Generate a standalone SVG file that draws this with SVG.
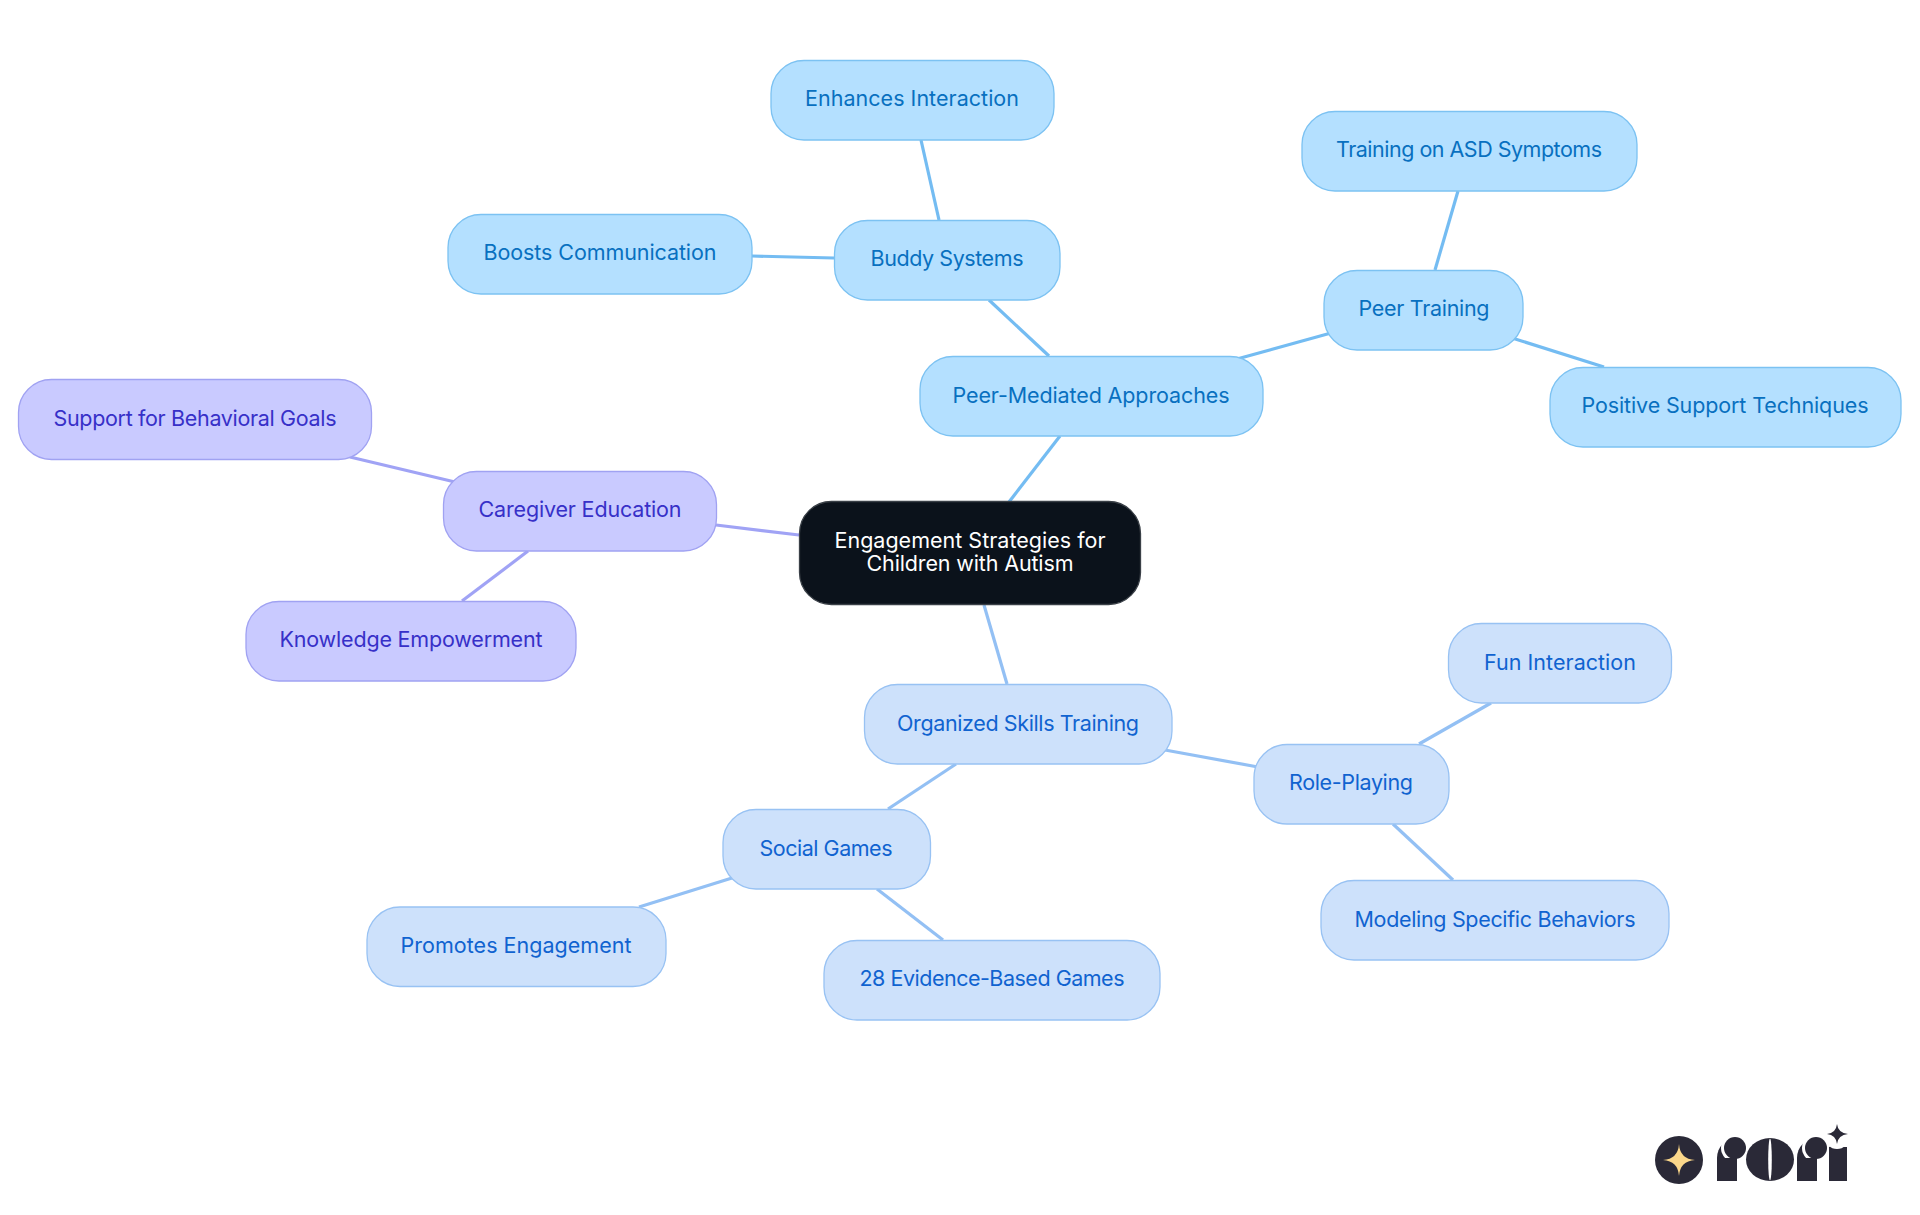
<svg xmlns="http://www.w3.org/2000/svg" width="1920" height="1215" viewBox="0 0 1920 1215">
<style>
text{font-family:"Inter","Noto Sans","Liberation Sans",sans-serif;font-size:21.5px;text-anchor:middle}
.n{stroke-width:1.3}
.sky rect{fill:#b4e0ff;stroke:#7cc2f2}.sky text{fill:#0870c0}
.blu rect{fill:#cde1fb;stroke:#98c2f3}.blu text{fill:#1063d0}
.pur rect{fill:#c9caff;stroke:#a0a2f2}.pur text{fill:#3730c8}
.root rect{fill:#0b121b;stroke:#3a4047}.root text{fill:#fff}
#connectors line{stroke-width:3.2;fill:none}
.es{stroke:#74bcf2}.eb{stroke:#93c0f4}.ep{stroke:#a0a3f5}
#logo .d{fill:#2a2937}#logo .w{fill:#fff}
</style>
<rect width="1920" height="1215" fill="#fff"/>
<g id="connectors">
<line class="es" x1="1009" y1="502" x2="1060" y2="436"/>
<line class="es" x1="1049" y1="356" x2="989" y2="300"/>
<line class="es" x1="939" y1="220" x2="921" y2="140"/>
<line class="es" x1="834" y1="258" x2="752" y2="256"/>
<line class="es" x1="1237" y1="359" x2="1331" y2="333"/>
<line class="es" x1="1435" y1="270" x2="1458" y2="191"/>
<line class="es" x1="1512" y1="338" x2="1604" y2="367"/>
<line class="ep" x1="799" y1="535" x2="716" y2="525"/>
<line class="ep" x1="455" y1="482" x2="350" y2="457"/>
<line class="ep" x1="528" y1="551" x2="462" y2="601"/>
<line class="eb" x1="984" y1="605" x2="1007" y2="684"/>
<line class="eb" x1="1165" y1="750" x2="1258" y2="767"/>
<line class="eb" x1="1419" y1="744" x2="1491" y2="703"/>
<line class="eb" x1="1393" y1="824" x2="1453" y2="880"/>
<line class="eb" x1="956" y1="764" x2="888" y2="809"/>
<line class="eb" x1="732" y1="878" x2="639" y2="907"/>
<line class="eb" x1="877" y1="889" x2="943" y2="940"/>
</g>
<g id="root" class="root n"><rect x="799.500" y="501.500" width="341" height="103" rx="32"/><text x="970" y="548" textLength="271">Engagement Strategies for</text><text x="970" y="571" textLength="207">Children with Autism</text></g>
<g id="peer-mediated" class="sky n"><rect x="920" y="356.500" width="343" height="79.500" rx="33"/><text x="1091" y="403" textLength="277">Peer-Mediated Approaches</text></g>
<g id="buddy" class="sky n"><rect x="834.500" y="220.500" width="225.500" height="79.500" rx="33"/><text x="947" y="266" textLength="153">Buddy Systems</text></g>
<g id="enhances" class="sky n"><rect x="771" y="60.500" width="283" height="79.500" rx="33"/><text x="912" y="106" textLength="214">Enhances Interaction</text></g>
<g id="boosts" class="sky n"><rect x="448" y="214.500" width="304" height="79.500" rx="33"/><text x="600" y="260" textLength="233">Boosts Communication</text></g>
<g id="peer-training" class="sky n"><rect x="1324" y="270.500" width="199" height="79.500" rx="33"/><text x="1424" y="316" textLength="131">Peer Training</text></g>
<g id="asd" class="sky n"><rect x="1302" y="111.500" width="335" height="79.500" rx="33"/><text x="1469" y="157" textLength="266">Training on ASD Symptoms</text></g>
<g id="positive" class="sky n"><rect x="1550" y="367.500" width="351" height="79.500" rx="33"/><text x="1725" y="413" textLength="287">Positive Support Techniques</text></g>
<g id="caregiver" class="pur n"><rect x="443.500" y="471.500" width="273" height="79.500" rx="33"/><text x="580" y="517" textLength="203">Caregiver Education</text></g>
<g id="support" class="pur n"><rect x="18.500" y="379.500" width="353" height="80" rx="33"/><text x="195" y="426" textLength="283">Support for Behavioral Goals</text></g>
<g id="knowledge" class="pur n"><rect x="246" y="601.500" width="330" height="79.500" rx="33"/><text x="411" y="647" textLength="263">Knowledge Empowerment</text></g>
<g id="organized" class="blu n"><rect x="864.500" y="684.500" width="307.500" height="79.500" rx="33"/><text x="1018" y="731" textLength="242">Organized Skills Training</text></g>
<g id="role" class="blu n"><rect x="1254" y="744.500" width="195" height="79.500" rx="33"/><text x="1351" y="790" textLength="124">Role-Playing</text></g>
<g id="fun" class="blu n"><rect x="1448.500" y="623.500" width="223" height="79.500" rx="33"/><text x="1560" y="670" textLength="152">Fun Interaction</text></g>
<g id="modeling" class="blu n"><rect x="1321" y="880.500" width="348" height="79.500" rx="33"/><text x="1495" y="927" textLength="281">Modeling Specific Behaviors</text></g>
<g id="social" class="blu n"><rect x="723" y="809.500" width="207.500" height="79.500" rx="33"/><text x="826" y="856" textLength="133">Social Games</text></g>
<g id="promotes" class="blu n"><rect x="367" y="907" width="299" height="79.500" rx="33"/><text x="516" y="953" textLength="231">Promotes Engagement</text></g>
<g id="games" class="blu n"><rect x="824" y="940.500" width="336" height="79.500" rx="33"/><text x="992" y="986" textLength="265">28 Evidence-Based Games</text></g>
<g id="logo">
<circle class="d" cx="1679" cy="1160" r="24"/>
<path fill="#fbd78a" d="M1679 1144Q1680 1159 1695 1160Q1680 1161 1679 1176Q1678 1161 1663 1160Q1678 1159 1679 1144Z"/>
<circle class="d" cx="1737" cy="1158" r="20"/>
<rect class="w" x="1737" y="1136" width="24" height="46"/>
<circle class="w" cx="1735" cy="1148" r="14"/>
<circle class="d" cx="1735" cy="1148" r="11"/>
<rect class="d" x="1717" y="1158" width="20" height="23"/>
<ellipse class="d" cx="1770" cy="1159.500" rx="24" ry="21.500"/>
<ellipse class="w" cx="1770" cy="1159.500" rx="1.800" ry="21"/>
<circle class="d" cx="1817" cy="1158" r="20"/>
<rect class="w" x="1817" y="1136" width="12" height="46"/>
<circle class="w" cx="1816" cy="1148" r="14"/>
<circle class="d" cx="1816" cy="1148" r="11"/>
<rect class="d" x="1797" y="1158" width="20" height="23"/>
<rect class="d" x="1829" y="1147" width="18" height="34"/>
<circle class="w" cx="1837" cy="1137" r="12"/>
<path class="d" d="M1837 1124Q1838 1133 1848 1134Q1838 1135 1837 1144Q1836 1135 1827 1134Q1836 1133 1837 1124Z"/>
</g>
</svg>
